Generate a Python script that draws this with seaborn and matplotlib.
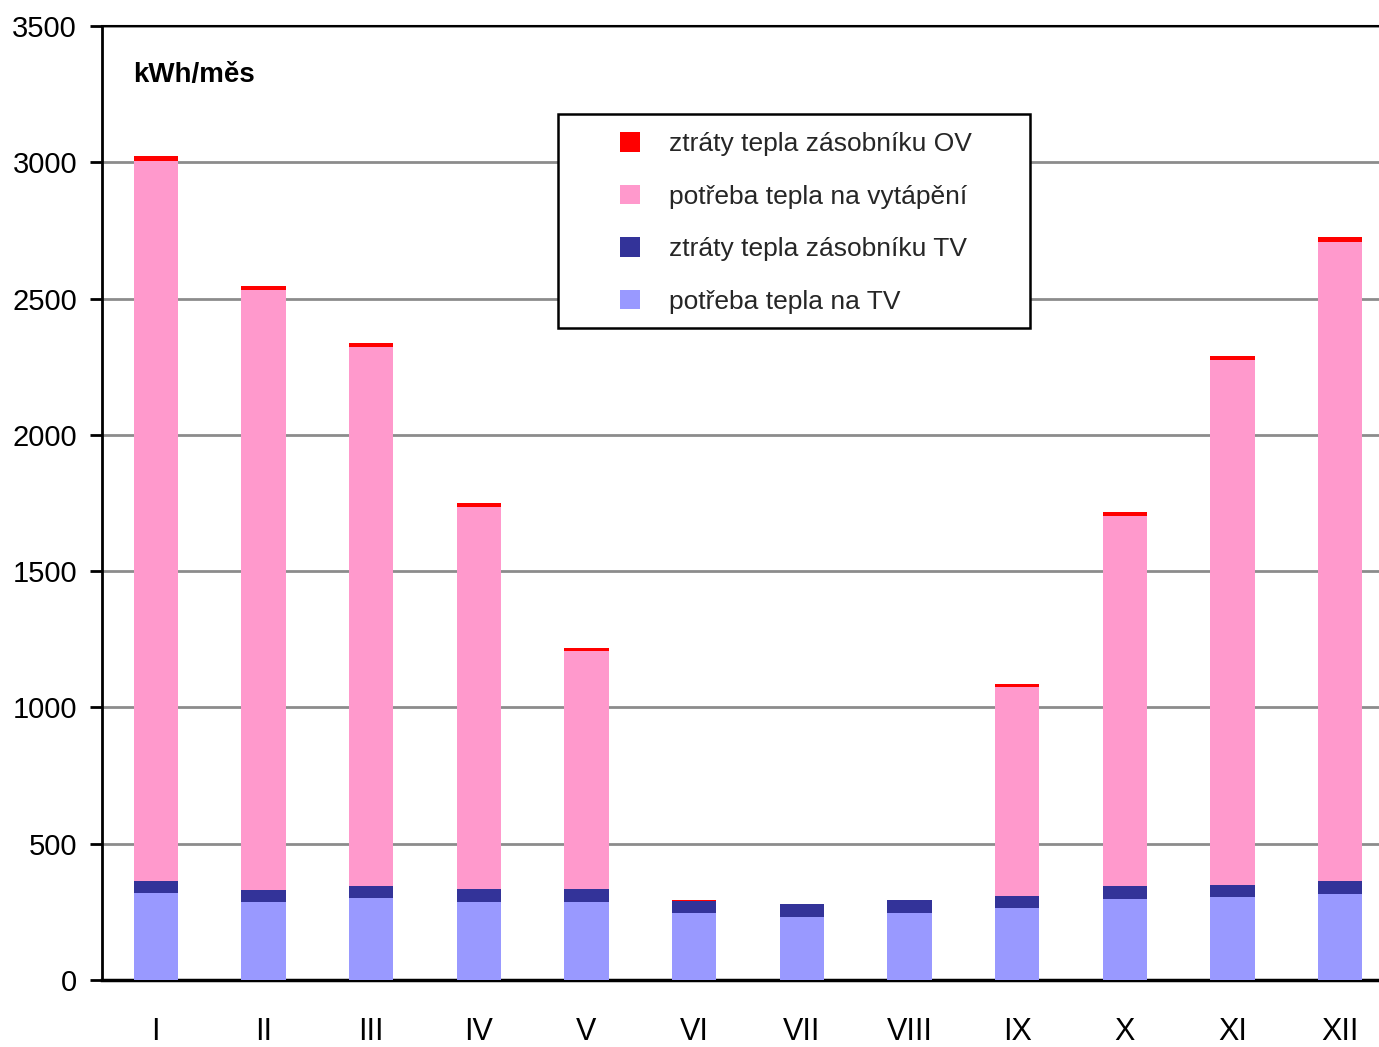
import numpy as np
import pandas as pd
import matplotlib
matplotlib.use("Agg")
import matplotlib.pyplot as plt
from matplotlib import font_manager
from matplotlib.patches import Rectangle, Patch
import seaborn as sns

# Monthly energy balance (kWh per month)
months = ["I", "II", "III", "IV", "V", "VI", "VII", "VIII", "IX", "X", "XI", "XII"]
tv_demand = [319, 286, 301, 286, 286, 246, 231, 246, 264, 297, 305, 316]      # potřeba tepla na TV
tv_losses = [44, 44, 44, 48, 48, 44, 48, 48, 44, 48, 44, 47]                   # ztráty tepla zásobníku TV
heating = [2643, 2202, 1978, 1402, 873, 0, 0, 0, 767, 1358, 1926, 2345]        # potřeba tepla na vytápění
ov_losses = [18, 15, 15, 15, 11, 5, 0, 0, 11, 15, 15, 18]                      # ztráty tepla zásobníku OV

series_labels = ["ztráty tepla zásobníku OV", "potřeba tepla na vytápění",
                 "ztráty tepla zásobníku TV", "potřeba tepla na TV"]
series_colors = ["#FF0000", "#FF99CC", "#333399", "#9999FF"]
y_ticks = [0, 500, 1000, 1500, 2000, 2500, 3000, 3500]

sns.set_theme(style="white")
names = {f.name for f in font_manager.fontManager.ttflist}
base_font = "Liberation Sans Narrow" if "Liberation Sans Narrow" in names else "Liberation Sans"
plt.rcParams["font.family"] = [base_font, "DejaVu Sans"]

W, H = 1379, 1047
fig = plt.figure(figsize=(W / 100, H / 100), dpi=100)
fig.patch.set_facecolor("white")
ax = fig.add_axes([102 / W, 67 / H, (1394 - 102) / W, 954 / H])

df = pd.DataFrame({"month": months, "tv": tv_demand, "tvl": tv_losses,
                   "heat": heating, "ov": ov_losses})
df["c_tv"] = df["tv"]
df["c_tvl"] = df["c_tv"] + df["tvl"]
df["c_heat"] = df["c_tvl"] + df["heat"]
df["c_ov"] = df["c_heat"] + df["ov"]

# stacked bars: draw cumulative totals from the top layer downwards
for col, color in zip(["c_ov", "c_heat", "c_tvl", "c_tv"], series_colors):
    sns.barplot(data=df, x="month", y=col, order=months, color=color,
                saturation=1, width=0.41, linewidth=0, ax=ax, zorder=3)

ax.set_xlim(-0.5, 11.5)
ax.set_ylim(0, 3500)
ax.set_yticks(y_ticks)
ax.set_xlabel("")
ax.set_ylabel("")
ax.set_axisbelow(True)
ax.yaxis.grid(True, color="#8c8c8c", linewidth=2)
ax.xaxis.grid(False)

for side in ["left", "bottom", "top"]:
    ax.spines[side].set_visible(True)
    ax.spines[side].set_color("black")
ax.spines["left"].set_linewidth(2)
ax.spines["bottom"].set_linewidth(2.5)
ax.spines["top"].set_linewidth(1.5)
ax.spines["right"].set_visible(False)

ax.set_xticks(np.arange(-0.5, 12, 1), minor=True)
ax.tick_params(axis="x", which="minor", direction="out", length=10, width=2, color="black")
ax.tick_params(axis="x", which="major", length=0, pad=27, labelsize=22, labelcolor="black")
ax.tick_params(axis="y", which="major", direction="out", length=9, width=2, color="black",
               pad=9, labelsize=21, labelcolor="black", left=True)

fig.text(133 / W, 1 - 75 / H, "kWh/měs", fontsize=20, fontweight="bold",
         ha="left", va="center", color="black")

# legend: border box plus entries
fig.patches.append(Rectangle((558 / W, 1 - 328 / H), (1030 - 558) / W, (328 - 114) / H,
                             transform=fig.transFigure, facecolor="white",
                             edgecolor="black", linewidth=1.8, zorder=5))
handles = [Patch(facecolor=c, edgecolor="none") for c in series_colors]
leg = fig.legend(handles, series_labels, loc="upper left",
                 bbox_to_anchor=(599 / W, 1 - 111 / H), frameon=False,
                 fontsize=19, handlelength=0.76, handleheight=0.76,
                 handletextpad=1.1, labelspacing=1.08, borderpad=0.3)
leg.set_zorder(6)

fig.savefig("out.png", dpi=100, facecolor="white")
